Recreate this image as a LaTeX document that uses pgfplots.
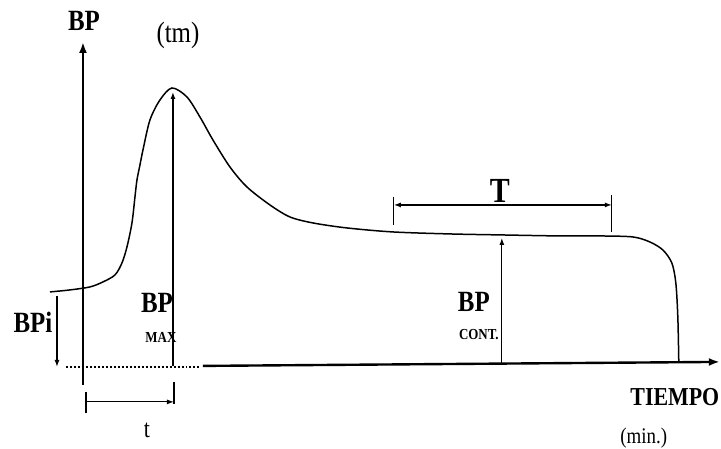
\documentclass[border=0pt]{standalone}
\usepackage{fontspec}
\setmainfont{Liberation Serif}
\usepackage{pgfplots}
\pgfplotsset{compat=1.18}
\usetikzlibrary{arrows.meta}

% coordinates are the pixels of the reference (y grows downwards)
\newcommand{\lbl}[3]{\node[inner sep=0pt, yscale=1.18] at (axis cs:#1,#2) {#3};}

\begin{document}
\begin{tikzpicture}
\begin{axis}[
  width=721bp, height=446bp, scale only axis,
  xmin=0, xmax=721, ymin=0, ymax=446, y dir=reverse,
  hide axis, clip=false,
  every axis plot/.append style={black},
]
% frame, keeps the page size
\addplot[draw=none] coordinates {(0,0) (721,446)};

% axes
\addplot[line width=2.4pt, -{Latex[length=11pt,width=8pt]}] coordinates {(83,385) (83,42)};
\addplot[line width=2.4pt, -{Latex[length=11pt,width=8pt]}] coordinates {(203,366) (720,362)};
\addplot[line width=1.2pt, dash pattern=on 2pt off 2pt] coordinates {(66,367) (200,367)};

% the pressure curve
\addplot[line width=1.5pt, smooth, tension=0.5] coordinates {
  (50,292) (70,290) (90,287) (103,282) (115,275) (122,263) (127,247)
  (132,223) (135,197) (137,180) (140,165) (143,150) (150,120) (160,100)
  (172,88) (187,97) (200,117) (213,140) (230,167) (247,187) (270,205)
  (290,217) (313,223) (347,228) (393,232) (450,234) (502,235) (560,236)
  (600,236) (633,237) (650,242) (663,250) (672,263) (676,283) (678,317)
  (679,363)
};

% BP max and BP cont.
\addplot[line width=1.2pt, -{Latex[length=7pt,width=5pt]}] coordinates {(173,366) (173,92)};
\addplot[line width=1.2pt, -{Latex[length=7pt,width=5pt]}] coordinates {(502,363) (502,238)};

% BPi
\addplot[line width=1.2pt, -{Latex[length=7pt,width=5pt]}] coordinates {(57,296) (57,367)};

% t
\addplot[line width=1.2pt] coordinates {(86,392) (86,413)};
\addplot[line width=1.2pt] coordinates {(174,382) (174,404)};
\addplot[line width=1.2pt, -{Latex[length=7pt,width=5pt]}] coordinates {(86,402) (174,402)};

% T
\addplot[line width=1.2pt] coordinates {(394,197) (394,225)};
\addplot[line width=1.2pt] coordinates {(612,195) (612,232)};
\addplot[line width=1.2pt, {Latex[length=7pt,width=5pt]}-{Latex[length=7pt,width=5pt]}] coordinates {(394,205) (612,205)};

% texts
\lbl{84}{21}{\fontsize{25}{26}\selectfont\bfseries BP}
\lbl{178}{35}{\fontsize{25}{26}\selectfont (tm)}
\lbl{33}{322}{\fontsize{25}{26}\selectfont\bfseries BPi}
\lbl{157}{303}{\fontsize{25}{26}\selectfont\bfseries BP}
\lbl{161}{338}{\fontsize{13}{14}\selectfont\bfseries MAX}
\lbl{474}{302}{\fontsize{25}{26}\selectfont\bfseries BP}
\lbl{479}{335}{\fontsize{13}{14}\selectfont\bfseries CONT.}
\lbl{500}{191}{\fontsize{30}{31}\selectfont\bfseries T}
\lbl{675}{397}{\fontsize{22}{23}\selectfont\bfseries TIEMPO}
\lbl{644}{438}{\fontsize{19}{20}\selectfont (min.)}
\lbl{147}{430}{\fontsize{22}{23}\selectfont t}
\end{axis}
\end{tikzpicture}
\end{document}
